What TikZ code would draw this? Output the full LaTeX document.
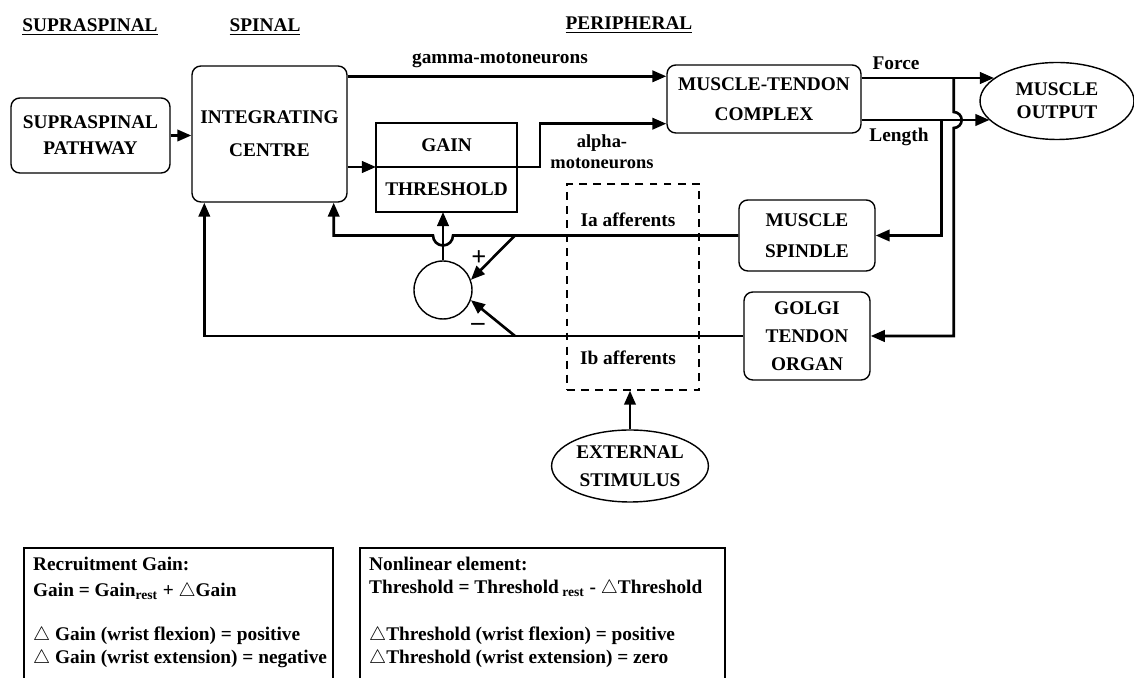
\documentclass[tikz,border=0pt]{standalone}
\usepackage{fontspec}
\setmainfont{Liberation Serif}
\usetikzlibrary{arrows.meta,shapes.geometric}

\begin{document}
\begin{tikzpicture}[x=0.02cm,y=0.02cm,
	every node/.style={font=\fontsize{11}{13}\selectfont\bfseries},
	blk/.style={draw,rounded corners=5pt,line width=0.8pt,align=center,inner sep=2pt},
	oval/.style={draw,ellipse,line width=0.8pt,align=center,inner sep=1pt},
	gbox/.style={draw,line width=1.3pt,outer sep=0pt,minimum width=2.82cm},
	arr/.style={line width=1.5pt,-{Triangle[length=8pt,width=6.5pt]}}]
	\clip (0,0) rectangle (1134,-678);
	% column headings
	\node (hsup) at (90,-27) {\underline{SUPRASPINAL}};
	\node (hspi) at (265,-27) {\underline{SPINAL}};
	\node (hper) at (629,-25) {\underline{PERIPHERAL}};
	% blocks
	\node[blk, minimum width=3.18cm, minimum height=1.5cm] (path) at (90.5,-135.5) {SUPRASPINAL\\[2pt]PATHWAY};
	\node[blk, minimum width=3.1cm, minimum height=2.72cm] (centre) at (269.5,-134) {INTEGRATING\\[6pt]CENTRE};
	\node[gbox, minimum height=0.88cm] (gain) at (446.5,-145) {GAIN};
	\node[gbox, minimum height=0.9cm, anchor=north] (thr) at (gain.south) {THRESHOLD};
	\node[blk, minimum width=3.88cm, minimum height=1.36cm] (mtc) at (764,-99) {MUSCLE-TENDON\\[4pt]COMPLEX};
	\node[oval, minimum width=3.08cm, minimum height=1.54cm] (out) at (1057,-101) {MUSCLE\\OUTPUT};
	\node[blk, minimum width=2.72cm, minimum height=1.42cm] (spindle) at (807,-235.5) {MUSCLE\\[4.5pt]SPINDLE};
	\node[blk, minimum width=2.52cm, minimum height=1.76cm] (golgi) at (807,-336) {GOLGI\\[3pt]TENDON\\[3pt]ORGAN};
	\node[draw, circle, line width=0.8pt, minimum size=1.16cm] (sum) at (443,-290) {};
	\node[draw, dash pattern=on 4.5pt off 3.5pt, line width=0.8pt, minimum width=2.64cm, minimum height=4.12cm] (aff) at (633,-287) {};
	\node[oval, minimum width=2.92cm, minimum height=1.44cm] (stim) at (630,-466) {EXTERNAL\\[3pt]STIMULUS};
	% forward path
	\draw[arr] (path.east) -- (path.east -| centre.west);
	\coordinate (g0) at ([yshift=-0.22cm]centre.north east);
	\draw[arr] (g0) -- (g0 -| mtc.west);
	\draw[arr] (centre.east |- gain.south) -- (gain.south west);
	\draw[arr] (gain.south east) -- ++(23,0) |- ([yshift=0.2cm]mtc.south west);
	\coordinate (fo) at ([yshift=0.42cm]mtc.east);
	\coordinate (le) at ([yshift=-0.42cm]mtc.east);
	\draw[arr] (fo) -- (fo -| out.160);
	\draw[arr] (le) -- (le -| out.196);
	% feedback to the receptors
	\draw[arr] (fo) ++(92,0) -- ++(0,-34) arc[start angle=90,end angle=-90,radius=8] |- (golgi.east);
	\draw[arr] (le) ++(80,0) |- (spindle.east);
	% afferents back to the spinal level
	\coordinate (cross) at (sum.north |- spindle.west);
	\draw[arr] (spindle.west) -- ([xshift=0.2cm]cross) arc[start angle=0,end angle=-180,radius=10] -| ([xshift=-0.28cm]centre.south east);
	\draw[arr] (golgi.west) -| ([xshift=0.26cm]centre.south west);
	\coordinate (pa) at ([xshift=1.44cm]cross);
	\coordinate (mb) at (pa |- golgi.west);
	\draw[arr] (pa) -- (sum.20);
	\draw[arr] (mb) -- (sum.-20);
	\draw[arr] (sum.north) -- (sum.north |- thr.south);
	\draw[arr] (stim.north) -- (stim.north |- aff.south);
	% labels
	\node (gamma) at (500,-60) {gamma-motoneurons};
	\node[font=\fontsize{10.5}{12}\selectfont\bfseries, align=center] (alpha) at (602,-152) {alpha-\\motoneurons};
	\node (force) at (896,-63) {Force};
	\node (length) at (899,-137) {Length};
	\node (ia) at (628,-220) {Ia afferents};
	\node (ib) at (628,-358) {Ib afferents};
	\node[font=\fontsize{15}{15}\selectfont\bfseries] (plus) at (479,-258) {+};
	\node[font=\fontsize{15}{15}\selectfont\bfseries] (minus) at (478,-327) {--};
	% notes at the bottom
	\draw[line width=0.8pt] (24,-700) |- (333,-548) -- (333,-700);
	\draw[line width=0.8pt] (360,-700) |- (725,-548) -- (725,-700);
	\node[anchor=base west] (l1) at (27,-571) {Recruitment Gain:};
	\node[anchor=base west] (l2) at (27,-597) {Gain = Gain\textsubscript{rest} + $\triangle$Gain};
	\node[anchor=base west] (l3) at (27,-641) {$\triangle$ Gain (wrist flexion) = positive};
	\node[anchor=base west] (l4) at (27,-664) {$\triangle$ Gain (wrist extension) = negative};
	\node[anchor=base west] (r1) at (363,-571) {Nonlinear element:};
	\node[anchor=base west] (r2) at (363,-594) {Threshold = Threshold\textsubscript{ rest} - $\triangle$Threshold};
	\node[anchor=base west] (r3) at (363,-641) {$\triangle$Threshold (wrist flexion) = positive};
	\node[anchor=base west] (r4) at (363,-664) {$\triangle$Threshold (wrist extension) = zero};
\end{tikzpicture}
\end{document}
